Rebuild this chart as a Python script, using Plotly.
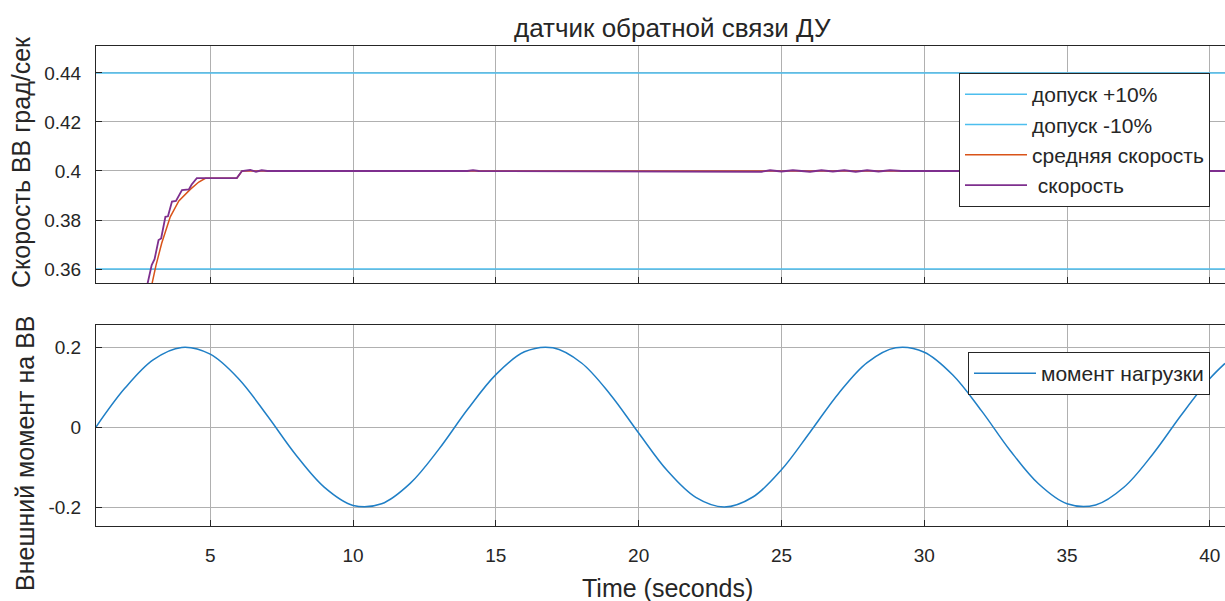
import plotly.graph_objects as go

# ---------------- data ----------------
x_range = [1, 40.53]
tol_hi_val = 0.44
tol_lo_val = 0.36

# measured speed (purple) – staircase rise then settle at 0.4
speed_t = [2.60, 2.81, 2.95, 3.05, 3.19, 3.28, 3.43, 3.52, 3.66, 3.80, 4.01, 4.25, 4.35,
           4.53, 5.93, 6.11, 6.40, 6.60, 6.80, 7.00, 14.0, 14.2, 14.4, 24.0, 24.3, 24.6,
           25.0, 25.4, 26.0, 26.4, 26.8, 27.2, 27.6, 28.0, 28.4, 28.8, 29.2, 30.0, 40.53]
speed_v = [0.3490, 0.3543, 0.3616, 0.3640, 0.3718, 0.3725, 0.3813, 0.3815, 0.3875, 0.3878,
           0.3922, 0.3925, 0.3945, 0.3971, 0.3971, 0.4000, 0.4004, 0.3997, 0.4003, 0.4000,
           0.4000, 0.4003, 0.4000, 0.4000, 0.3997, 0.4003, 0.3998, 0.4003, 0.3997, 0.4003,
           0.3998, 0.4003, 0.3997, 0.4003, 0.3998, 0.4003, 0.4000, 0.4000, 0.4000]

# averaged speed (orange)
avg_t = [2.85, 2.96, 3.10, 3.30, 3.60, 3.90, 4.30, 4.60, 4.83, 5.93, 6.11, 40.53]
avg_v = [0.3480, 0.3543, 0.3615, 0.3705, 0.3813, 0.3878, 0.3925, 0.3955, 0.3970, 0.3970,
         0.4000, 0.4000]

# external load moment (blue) read at 1 s steps
moment_t = [1, 2, 3, 4, 5, 6, 7, 8, 9, 10, 11, 12, 13, 14, 15, 16, 17, 18, 19, 20, 21,
            22, 23, 24, 25, 26, 27, 28, 29, 30, 31, 32, 33, 34, 35, 36, 37, 38, 39, 40, 40.53]
moment_v = [0.000, 0.096, 0.168, 0.199, 0.182, 0.120, 0.028, -0.070, -0.151, -0.196,
            -0.192, -0.141, -0.056, 0.043, 0.131, 0.188, 0.198, 0.160, 0.082, -0.015,
            -0.109, -0.176, -0.200, -0.175, -0.107, -0.013, 0.084, 0.161, 0.198, 0.187,
            0.130, 0.041, -0.058, -0.142, -0.192, -0.195, -0.150, -0.068, 0.030, 0.121, 0.159]

x_ticks = [5, 10, 15, 20, 25, 30, 35, 40]
top_ticks = [0.36, 0.38, 0.40, 0.42, 0.44]
top_tick_text = ["0.36", "0.38", "0.4", "0.42", "0.44"]
bot_ticks = [-0.2, 0, 0.2]
bot_tick_text = ["-0.2", "0", "0.2"]

# ---------------- figure ----------------
FONT = "Liberation Sans, Arial, sans-serif"
TXT = "#262626"
GRID = "#b0b0b0"

fig = go.Figure()

fig.add_trace(go.Scatter(x=x_range, y=[tol_hi_val, tol_hi_val], mode="lines",
                         line=dict(color="#4DBEEE", width=1.5), name="допуск +10%",
                         xaxis="x", yaxis="y", legend="legend"))
fig.add_trace(go.Scatter(x=x_range, y=[tol_lo_val, tol_lo_val], mode="lines",
                         line=dict(color="#4DBEEE", width=1.5), name="допуск -10%",
                         xaxis="x", yaxis="y", legend="legend"))
fig.add_trace(go.Scatter(x=avg_t, y=avg_v, mode="lines",
                         line=dict(color="#D95319", width=1.5), name="средняя скорость",
                         xaxis="x", yaxis="y", legend="legend"))
fig.add_trace(go.Scatter(x=speed_t, y=speed_v, mode="lines",
                         line=dict(color="#7E2F8E", width=1.8), name=" скорость",
                         xaxis="x", yaxis="y", legend="legend"))
fig.add_trace(go.Scatter(x=moment_t, y=moment_v, mode="lines", line_shape="spline",
                         line=dict(color="#1f7fc6", width=1.5), name="момент нагрузки",
                         xaxis="x2", yaxis="y2", legend="legend2"))

axis_common = dict(showline=True, linecolor=TXT, linewidth=1, ticks="inside",
                   ticklen=6, tickcolor=TXT, showgrid=True, gridcolor=GRID,
                   gridwidth=1, zeroline=False,
                   tickfont=dict(family=FONT, size=19, color=TXT))

top_dom = [(526 - 283) / 480, 1.0]
bot_dom = [0.0, (526 - 325) / 480]

legend_common = dict(xanchor="right", yanchor="top", bgcolor="white", bordercolor=TXT,
                     borderwidth=1, itemwidth=62,
                     font=dict(family=FONT, size=21, color=TXT))

fig.update_layout(
    width=1225, height=601,
    margin=dict(l=96, r=0, t=46, b=75),
    paper_bgcolor="white", plot_bgcolor="white",
    font=dict(family=FONT, color=TXT),
    xaxis=dict(axis_common, domain=[0, 1], range=x_range, tickvals=x_ticks,
               showticklabels=False, mirror=True, anchor="y"),
    yaxis=dict(axis_common, domain=top_dom, range=[0.3543, 0.451], tickvals=top_ticks,
               ticktext=top_tick_text, anchor="x", ticklabelstandoff=10),
    xaxis2=dict(axis_common, domain=[0, 1], range=x_range, tickvals=x_ticks,
                ticktext=[str(v) for v in x_ticks], mirror=True, anchor="y2",
                ticklabelstandoff=12),
    yaxis2=dict(axis_common, domain=bot_dom, range=[-0.2475, 0.255], tickvals=bot_ticks,
                ticktext=bot_tick_text, anchor="x2", ticklabelstandoff=10),
    legend=dict(legend_common, x=(1210 - 96) / 1129, y=(526 - 73) / 480),
    legend2=dict(legend_common, x=(1210 - 96) / 1129, y=(526 - 352) / 480),
    showlegend=True,
    annotations=[
        dict(text="датчик обратной связи ДУ", xref="paper", yref="paper",
             x=(672 - 96) / 1129, y=(526 - 28) / 480, xanchor="center", yanchor="middle",
             showarrow=False, font=dict(family=FONT, size=26, color=TXT)),
        dict(text="Time (seconds)", xref="paper", yref="paper",
             x=(667 - 96) / 1129, y=(526 - 588) / 480, xanchor="center", yanchor="middle",
             showarrow=False, font=dict(family=FONT, size=25, color=TXT)),
        dict(text="Скорость ВВ град/сек", xref="paper", yref="paper", textangle=-90,
             x=(21 - 96) / 1129, y=(526 - 162) / 480, xanchor="center", yanchor="middle",
             showarrow=False, font=dict(family=FONT, size=25, color=TXT)),
        dict(text="Внешний момент на ВВ", xref="paper", yref="paper", textangle=-90,
             x=(25 - 96) / 1129, y=(526 - 453) / 480, xanchor="center", yanchor="middle",
             showarrow=False, font=dict(family=FONT, size=25, color=TXT)),
    ],
)

fig.write_html("out.html")
